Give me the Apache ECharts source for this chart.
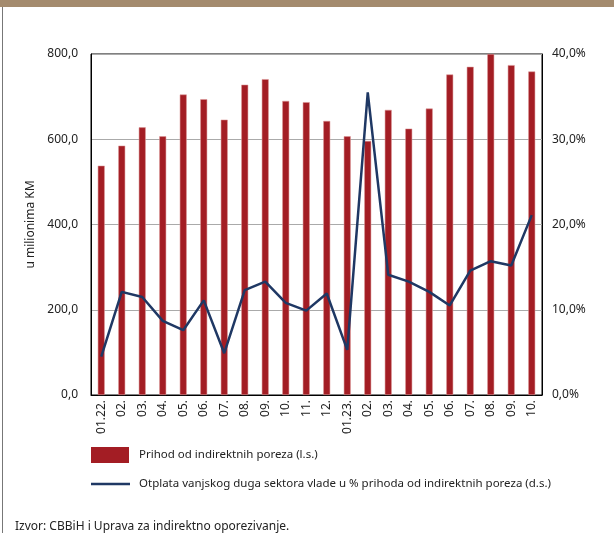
<!DOCTYPE html>
<html>
<head>
<meta charset="utf-8">
<script src="https://cdn.jsdelivr.net/npm/echarts@6/dist/echarts.min.js"></script>
<style>
  html, body { margin: 0; padding: 0; background: #fff; }
  #chart { width: 614px; height: 533px; }
</style>
</head>
<body>
<div id="chart"></div>
<script>
// mjeseci
const months = ['01.22.', '02.', '03.', '04.', '05.', '06.', '07.', '08.', '09.', '10.', '11.', '12.',
  '01.23.', '02.', '03.', '04.', '05.', '06.', '07.', '08.', '09.', '10.'];
// Prihod od indirektnih poreza, mil. KM (l.s.)
const prihod = [538, 585, 628, 607, 705, 694, 646, 728, 741, 690, 687, 643,
  607, 596, 669, 625, 672, 752, 770, 800, 774, 759];
// Otplata vanjskog duga u % prihoda (d.s.)
const otplata = [4.5, 12.1, 11.5, 8.7, 7.6, 11.1, 4.9, 12.3, 13.3, 10.8, 9.9, 11.9,
  5.3, 35.5, 14.1, 13.3, 12.1, 10.5, 14.6, 15.7, 15.2, 21.1];

const barName = 'Prihod od indirektnih poreza (l.s.)';
const lineName = 'Otplata vanjskog duga sektora vlade u % prihoda od indirektnih poreza (d.s.)';
const red = '#a31d24';
const navy = '#1f3864';

const fmt = v => v.toFixed(1).replace('.', ',');

const chart = echarts.init(document.getElementById('chart'));
const font = 'Noto Sans';

const option = {
  animation: false,
  textStyle: { fontFamily: font },
  graphic: [
    // okvir
    { type: 'rect', left: 0, top: 0, shape: { width: 614, height: 7 }, style: { fill: '#a48b6e' } },
    { type: 'line', shape: { x1: 2.5, y1: 7, x2: 2.5, y2: 533 }, style: { stroke: '#777', lineWidth: 1 } },
    // legenda
    { type: 'rect', shape: { x: 91, y: 447, width: 38, height: 16 }, style: { fill: red } },
    { type: 'text', x: 139, y: 455,
      style: { text: barName, font: '11.5px "Noto Sans"', fill: '#222', verticalAlign: 'middle' } },
    { type: 'line', shape: { x1: 91, y1: 484, x2: 130, y2: 484 }, style: { stroke: navy, lineWidth: 2.5 } },
    { type: 'text', x: 139, y: 484,
      style: { text: lineName, font: '11.5px "Noto Sans"', fill: '#222', verticalAlign: 'middle' } },
    // izvor
    { type: 'text', x: 15, y: 527,
      style: { text: 'Izvor: CBBiH i Uprava za indirektno oporezivanje.', font: '12px "Noto Sans"', fill: '#222', verticalAlign: 'middle' } }
  ],
  grid: {
    left: 91, top: 54, right: 72, bottom: 138,
    show: true, borderColor: '#000', borderWidth: 1
  },
  xAxis: {
    type: 'category',
    data: months,
    axisLine: { lineStyle: { color: '#000' } },
    axisTick: { show: false },
    axisLabel: { interval: 0, rotate: 90, color: '#222', fontSize: 12, margin: 5 }
  },
  yAxis: [
    {
      type: 'value', min: 0, max: 800, interval: 200,
      name: 'u milionima KM', nameLocation: 'middle', nameGap: 48,
      nameTextStyle: { color: '#222', fontSize: 12 },
      axisLine: { show: true, lineStyle: { color: '#000' } },
      axisTick: { show: false },
      axisLabel: { color: '#222', fontSize: 12, margin: 13, formatter: v => fmt(v) },
      splitLine: { lineStyle: { color: '#aaa', width: 1 } }
    },
    {
      type: 'value', min: 0, max: 40, interval: 10,
      axisLine: { show: true, lineStyle: { color: '#000' } },
      axisTick: { show: false },
      axisLabel: { color: '#222', fontSize: 12, margin: 10, formatter: v => fmt(v) + '%' },
      splitLine: { show: false }
    }
  ],
  series: [
    {
      name: barName,
      type: 'bar',
      data: prihod,
      barWidth: 7,
      itemStyle: { color: red, borderColor: 'rgba(220,150,150,0.9)', borderWidth: 0.6 }
    },
    {
      name: lineName,
      type: 'line',
      yAxisIndex: 1,
      data: otplata,
      symbol: 'none',
      lineStyle: { color: navy, width: 2.5 },
      itemStyle: { color: navy }
    }
  ]
};

chart.setOption(option);
</script>
</body>
</html>
